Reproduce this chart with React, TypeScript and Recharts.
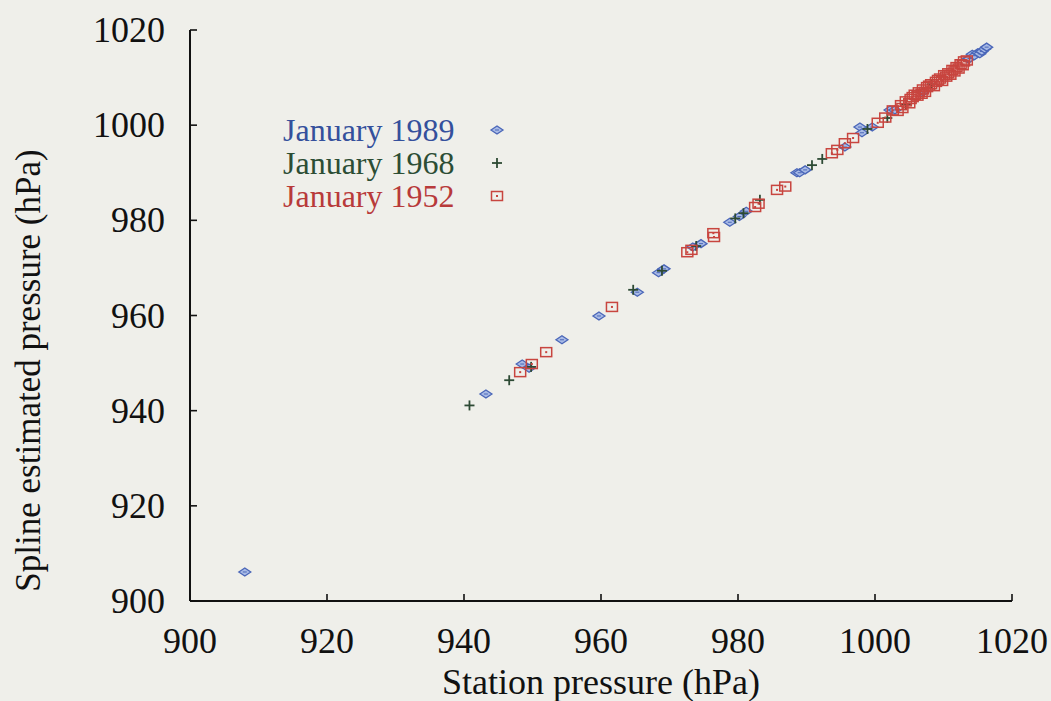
import React from "react";
import { ScatterChart, Scatter, XAxis, YAxis, Legend } from "recharts";

const tickValues = [900, 920, 940, 960, 980, 1000, 1020];
const seriesNames = ["January 1989", "January 1968", "January 1952"];

const jan1989x = [908.0, 943.2, 948.5, 949.5, 954.3, 959.7, 965.3, 968.4, 969.2, 973.4, 974.6, 978.8, 980.2, 981.2, 988.6, 989.0, 989.8, 995.6, 997.8, 998.1, 999.6, 1002.2, 1002.9, 1007.0, 1013.6, 1013.8, 1014.2, 1014.5, 1015.0, 1015.3, 1015.6, 1016.0, 1016.3];
const jan1989y = [906.1, 943.5, 949.8, 948.9, 954.9, 959.9, 964.9, 969.0, 969.8, 974.4, 975.1, 979.6, 980.8, 981.9, 990.0, 990.0, 990.6, 995.4, 999.6, 998.4, 999.6, 1003.2, 1003.2, 1007.0, 1013.9, 1014.0, 1014.9, 1014.6, 1015.2, 1015.0, 1015.5, 1016.0, 1016.4];

const jan1968x = [940.8, 946.6, 949.8, 964.7, 968.9, 973.9, 979.6, 980.8, 983.2, 990.8, 992.3, 998.9, 1001.8, 1004.5, 1008.3];
const jan1968y = [941.1, 946.4, 949.2, 965.4, 969.4, 974.6, 980.4, 981.5, 984.3, 991.6, 992.9, 999.2, 1001.5, 1004.4, 1008.6];

const jan1952x = [948.2, 949.9, 952.0, 961.6, 972.6, 973.2, 976.4, 976.5, 982.5, 983.0, 985.7, 986.9, 993.7, 994.5, 995.6, 996.8, 1000.4, 1001.5, 1002.6, 1003.3, 1003.8, 1004.0, 1004.5, 1005.0, 1005.2, 1005.5, 1005.8, 1006.2, 1006.4, 1006.8, 1007.0, 1007.3, 1007.6, 1007.9, 1008.2, 1008.6, 1008.9, 1009.2, 1009.5, 1009.8, 1010.1, 1010.4, 1010.7, 1011.0, 1011.3, 1011.6, 1011.9, 1012.2, 1012.5, 1012.8, 1013.0, 1013.4];
const jan1952y = [948.1, 949.8, 952.3, 961.8, 973.3, 973.8, 977.3, 976.5, 982.8, 983.5, 986.4, 987.1, 994.1, 994.8, 996.2, 997.3, 1000.5, 1001.6, 1003.1, 1003.0, 1004.2, 1003.6, 1005.0, 1004.6, 1005.5, 1005.9, 1006.4, 1006.2, 1006.9, 1006.6, 1007.5, 1007.0, 1008.0, 1008.3, 1008.6, 1008.2, 1009.1, 1009.5, 1009.8, 1009.3, 1010.5, 1010.2, 1010.9, 1010.6, 1011.6, 1011.3, 1012.2, 1011.9, 1012.8, 1012.6, 1013.4, 1013.6];

const toPoints = (xs: number[], ys: number[]) => xs.map((x, i) => ({ x, y: ys[i] }));
const data1989 = toPoints(jan1989x, jan1989y);
const data1968 = toPoints(jan1968x, jan1968y);
const data1952 = toPoints(jan1952x, jan1952y);

const FONT = "'Liberation Serif', 'DejaVu Serif', serif";
const BLUE_TEXT = "#34509c";
const GREEN_TEXT = "#2c4d34";
const RED_TEXT = "#b83a3a";

const Diamond = ({ cx, cy }: any) => (
  <g>
    <polygon
      points={`${cx - 6},${cy} ${cx},${cy - 4} ${cx + 6},${cy} ${cx},${cy + 4}`}
      fill="#a9bbe6"
      stroke="#4a66b8"
      strokeWidth={1.3}
    />
    <line x1={cx - 2} y1={cy} x2={cx + 2} y2={cy} stroke="#4a66b8" strokeWidth={1} />
  </g>
);

const Plus = ({ cx, cy }: any) => (
  <g stroke="#2d4a34" strokeWidth={1.8}>
    <line x1={cx - 5} y1={cy} x2={cx + 5} y2={cy} />
    <line x1={cx} y1={cy - 5} x2={cx} y2={cy + 5} />
  </g>
);

const Square = ({ cx, cy }: any) => (
  <g>
    <rect x={cx - 5.5} y={cy - 4.5} width={11} height={9} fill="none" stroke="#c8453f" strokeWidth={1.5} />
    <rect x={cx - 1} y={cy - 1} width={2} height={2} fill="#c8453f" />
  </g>
);

const TICK_LEN = 7;

const BottomTick = ({ x, y, payload }: any) => (
  <g>
    <line x1={x} y1={y} x2={x} y2={y - TICK_LEN} stroke="#111" strokeWidth={1.6} />
    <text x={x} y={y + 52} textAnchor="middle" fontFamily={FONT} fontSize={36} fill="#111">
      {payload.value}
    </text>
  </g>
);

const LeftTick = ({ x, y, payload }: any) => (
  <g>
    <line x1={x} y1={y} x2={x + TICK_LEN} y2={y} stroke="#111" strokeWidth={1.6} />
    <text x={x - 25} y={y + 12} textAnchor="end" fontFamily={FONT} fontSize={36} fill="#111">
      {payload.value}
    </text>
  </g>
);

const TopTick = ({ x, y }: any) => (
  <line x1={x} y1={y} x2={x} y2={y + TICK_LEN} stroke="#111" strokeWidth={1.6} />
);

const RightTick = ({ x, y }: any) => (
  <line x1={x} y1={y} x2={x - TICK_LEN} y2={y} stroke="#111" strokeWidth={1.6} />
);

const legendColors = [BLUE_TEXT, GREEN_TEXT, RED_TEXT];
const legendMarkers = [Diamond, Plus, Square];

const LegendContent = () => (
  <div style={{ fontFamily: FONT, fontSize: 32, lineHeight: "32px" }}>
    {seriesNames.map((name, i) => {
      const M = legendMarkers[i];
      return (
        <div key={name} style={{ display: "flex", alignItems: "center", height: 33 }}>
          <span style={{ color: legendColors[i], width: 206, whiteSpace: "nowrap" }}>{name}</span>
          <svg width={16} height={16} style={{ overflow: "visible" }}>
            <M cx={8} cy={8} />
          </svg>
        </div>
      );
    })}
  </div>
);

const axisLine = { stroke: "#111", strokeWidth: 2 };

export default function App() {
  return (
    <div style={{ width: 1051, height: 701, background: "#efefea", position: "relative" }}>
      <style>{"body{margin:0;background:#efefea;}"}</style>
      <ScatterChart width={1051} height={701} margin={{ top: 30, right: 39, bottom: 0, left: 0 }}>
        <XAxis
          xAxisId="b"
          type="number"
          dataKey="x"
          domain={[900, 1020]}
          ticks={tickValues}
          allowDataOverflow
          height={100}
          tickSize={0}
          tickMargin={0}
          tickLine={false}
          axisLine={axisLine}
          tick={<BottomTick />}
          interval={0}
          label={{
            value: "Station pressure (hPa)",
            position: "insideBottom",
            offset: 7,
            style: { fontFamily: FONT, fontSize: 36, fill: "#111" },
          }}
        />
        <XAxis
          xAxisId="t"
          orientation="top"
          type="number"
          dataKey="x"
          domain={[900, 1020]}
          ticks={tickValues}
          allowDataOverflow
          height={0}
          tickSize={0}
          tickMargin={0}
          tickLine={false}
          axisLine={axisLine}
          tick={<TopTick />}
          interval={0}
        />
        <YAxis
          yAxisId="l"
          type="number"
          dataKey="y"
          domain={[900, 1020]}
          ticks={tickValues}
          allowDataOverflow
          width={190}
          tickSize={0}
          tickMargin={0}
          tickLine={false}
          axisLine={axisLine}
          tick={<LeftTick />}
          interval={0}
          label={{
            value: "Spline estimated pressure (hPa)",
            angle: -90,
            position: "insideLeft",
            offset: 0,
            dx: 28,
            dy: 55,
            style: { fontFamily: FONT, fontSize: 35, fill: "#111", textAnchor: "middle" },
          }}
        />
        <YAxis
          yAxisId="r"
          orientation="right"
          type="number"
          dataKey="y"
          domain={[900, 1020]}
          ticks={tickValues}
          allowDataOverflow
          width={0}
          tickSize={0}
          tickMargin={0}
          tickLine={false}
          axisLine={axisLine}
          tick={<RightTick />}
          interval={0}
        />
        <Legend
          layout="vertical"
          align="center"
          verticalAlign="middle"
          content={<LegendContent />}
          wrapperStyle={{ position: "absolute", left: 283, top: 113, width: 240, height: 100 }}
        />
        <Scatter name={seriesNames[0]} data={data1989} xAxisId="b" yAxisId="l" shape={<Diamond />} isAnimationActive={false} />
        <Scatter name={seriesNames[1]} data={data1968} xAxisId="b" yAxisId="l" shape={<Plus />} isAnimationActive={false} />
        <Scatter name={seriesNames[2]} data={data1952} xAxisId="b" yAxisId="l" shape={<Square />} isAnimationActive={false} />
      </ScatterChart>
    </div>
  );
}
